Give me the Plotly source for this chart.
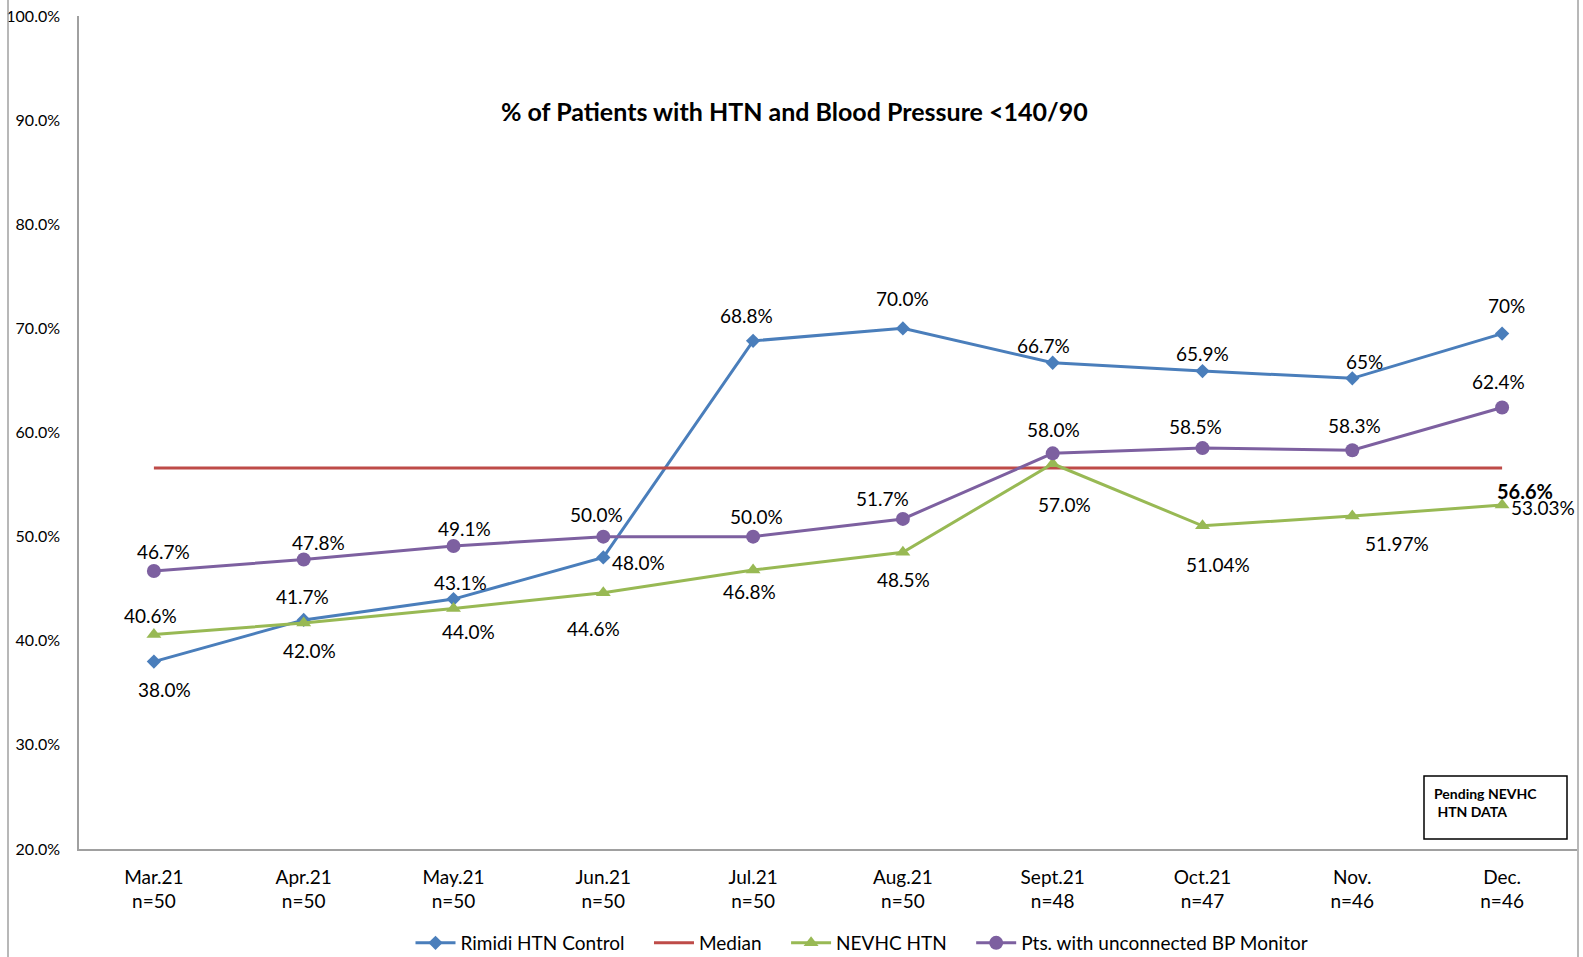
import plotly.graph_objects as go

months = ["Mar.21", "Apr.21", "May.21", "Jun.21", "Jul.21", "Aug.21", "Sept.21", "Oct.21", "Nov.", "Dec."]
n_counts = ["n=50", "n=50", "n=50", "n=50", "n=50", "n=50", "n=48", "n=47", "n=46", "n=46"]
categories = [f"{m}<br>{c}" for m, c in zip(months, n_counts)]

rimidi = [38.0, 42.0, 44.0, 48.0, 68.8, 70.0, 66.7, 65.9, 65.2, 69.5]
rimidi_labels = ["38.0%", "42.0%", "44.0%", "48.0%", "68.8%", "70.0%", "66.7%", "65.9%", "65%", "70%"]

median = [56.6] * 10
median_label = "56.6%"

nevhc = [40.6, 41.7, 43.1, 44.6, 46.8, 48.5, 57.0, 51.04, 51.97, 53.03]
nevhc_labels = ["40.6%", "41.7%", "43.1%", "44.6%", "46.8%", "48.5%", "57.0%", "51.04%", "51.97%", "53.03%"]

pts = [46.7, 47.8, 49.1, 50.0, 50.0, 51.7, 58.0, 58.5, 58.3, 62.4]
pts_labels = ["46.7%", "47.8%", "49.1%", "50.0%", "50.0%", "51.7%", "58.0%", "58.5%", "58.3%", "62.4%"]

series_names = ["Rimidi HTN Control", "Median", "NEVHC HTN", "Pts. with unconnected BP Monitor"]

y_ticks = [20, 30, 40, 50, 60, 70, 80, 90, 100]

# label offsets in pixels (dx, dy positive = down)
rimidi_off = [(11, 28), (6, 31), (15, 32), (35, 5), (-7, -25), (0, -30), (-9, -17), (0, -18), (12, -17), (4, -28)]
nevhc_off = [(-3, -19), (-1, -27), (7, -26), (-10, 36), (-4, 22), (1, 27), (12, 41), (15, 39), (45, 27), (41, 2)]
pts_off = [(10, -19), (15, -17), (11, -18), (-7, -22), (3, -20), (-20, -20), (1, -24), (-7, -22), (2, -25), (-4, -26)]

BLUE = "#4A7EBB"
RED = "#BE4B48"
GREEN = "#98B954"
PURPLE = "#7D60A0"
FONT = "Lato"
PAD = "\u00a0" * 4

fig = go.Figure()
fig.add_trace(go.Scatter(x=categories, y=rimidi, name=series_names[0] + PAD, mode="lines+markers",
                         line=dict(color=BLUE, width=3), marker=dict(symbol="diamond", size=11, color=BLUE)))
fig.add_trace(go.Scatter(x=categories, y=median, name=series_names[1] + PAD, mode="lines",
                         line=dict(color=RED, width=3)))
fig.add_trace(go.Scatter(x=categories, y=nevhc, name=series_names[2] + PAD, mode="lines+markers",
                         line=dict(color=GREEN, width=3), marker=dict(symbol="triangle-up", size=13, color=GREEN)))
fig.add_trace(go.Scatter(x=categories, y=pts, name=series_names[3], mode="lines+markers",
                         line=dict(color=PURPLE, width=3), marker=dict(symbol="circle", size=14, color=PURPLE)))

annotations = []
for vals, labels, offs in [(rimidi, rimidi_labels, rimidi_off), (nevhc, nevhc_labels, nevhc_off), (pts, pts_labels, pts_off)]:
    for cat, v, t, (dx, dy) in zip(categories, vals, labels, offs):
        annotations.append(dict(x=cat, y=v, xref="x", yref="y", text=t, showarrow=False,
                                xshift=dx, yshift=-dy, font=dict(family=FONT, size=19, color="#000000")))
annotations.append(dict(x=categories[-1], y=median[-1], xref="x", yref="y", text=f"<b>{median_label}</b>",
                        showarrow=False, xshift=23, yshift=23, font=dict(family=FONT, size=20, color="#000000")))
annotations[-1]["yshift"] = -23
annotations.append(dict(x=(794 - 79) / 1498, y=1 - (111 - 16) / 833, xref="paper", yref="paper",
                        xanchor="center", yanchor="middle",
                        text="<b>% of Patients with HTN and Blood Pressure <140/90</b>", showarrow=False,
                        font=dict(family=FONT, size=25, color="#000000")))
annotations.append(dict(x=(1432 - 79) / 1498, y=1 - (802 - 16) / 833, xref="paper", yref="paper",
                        text="<b>Pending NEVHC<br> HTN DATA</b>", showarrow=False, align="left",
                        xanchor="left", yanchor="middle",
                        font=dict(family=FONT, size=14, color="#000000")))
fig.update_layout(annotations=annotations)

shapes = [
    dict(type="rect", xref="paper", yref="paper",
         x0=(1424 - 79) / 1498, x1=(1567 - 79) / 1498,
         y0=1 - (839 - 16) / 833, y1=1 - (776 - 16) / 833,
         line=dict(color="#000000", width=1.5), fillcolor="rgba(0,0,0,0)"),
    dict(type="line", xref="paper", yref="paper", x0=(8 - 79) / 1498, x1=(8 - 79) / 1498,
         y0=1 + 16 / 833, y1=-(957 - 849) / 833, line=dict(color="#A0A0A0", width=1.5)),
    dict(type="line", xref="paper", yref="paper", x0=(1578 - 79) / 1498, x1=(1578 - 79) / 1498,
         y0=1 + 16 / 833, y1=-(957 - 849) / 833, line=dict(color="#A0A0A0", width=1.5)),
]
fig.update_layout(shapes=shapes)

fig.update_layout(
    width=1583, height=957,
    margin=dict(l=79, r=6, t=16, b=108, autoexpand=False),
    paper_bgcolor="white", plot_bgcolor="white",
    font=dict(family=FONT, size=19, color="#000000"),
    showlegend=True,
    legend=dict(orientation="h", x=(862 - 79) / 1498, xanchor="center", y=-(943 - 849) / 833, yanchor="middle",
                font=dict(family=FONT, size=19), itemwidth=40, tracegroupgap=0),
    xaxis=dict(type="category", range=[-0.5, 9.5], showline=True, linecolor="#A0A0A0", linewidth=1.5,
               showgrid=False, ticks="", tickfont=dict(family=FONT, size=19), ticklabelstandoff=10,
               automargin=False),
    yaxis=dict(range=[20, 100], tickvals=y_ticks, ticktext=[f"{v:.1f}%" for v in y_ticks],
               showline=True, linecolor="#A0A0A0", linewidth=1.5, showgrid=False, zeroline=False,
               ticks="", tickfont=dict(family=FONT, size=16), ticklabelstandoff=14, automargin=False),
)

fig.write_html("out.html")
